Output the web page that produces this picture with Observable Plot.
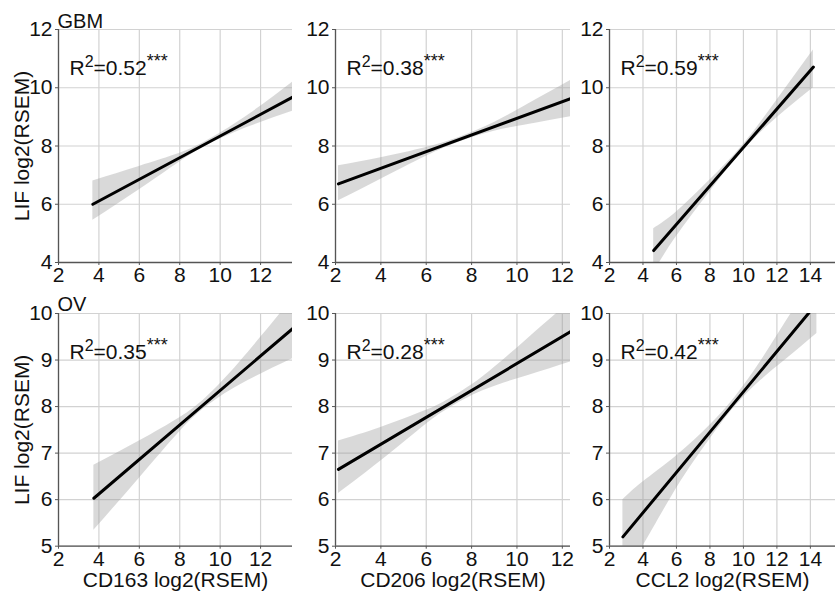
<!DOCTYPE html>
<html><head><meta charset="utf-8">
<script src="https://cdn.jsdelivr.net/npm/d3@7"></script>
<script src="https://cdn.jsdelivr.net/npm/@observablehq/plot@0.6"></script>
<style>
body{margin:0;background:#fff;}
#chart{position:relative;width:836px;height:599px;overflow:hidden;font-family:"Liberation Sans",Arial,sans-serif;}
#chart svg{position:absolute;overflow:visible;background:transparent;}
</style></head><body><div id="chart"></div>
<script>
// ---- data ----
const cancers = ["GBM", "OV"];
const genes = ["CD163", "CD206", "CCL2"];
const rSquared = [[0.52, 0.38, 0.59], [0.35, 0.28, 0.42]];
const yTicksGBM = [4, 6, 8, 10, 12];
const yTicksOV = [5, 6, 7, 8, 9, 10];
const xTicksCD163 = [2, 4, 6, 8, 10, 12];
const xTicksCD206 = [2, 4, 6, 8, 10, 12];
const xTicksCCL2 = [2, 4, 6, 8, 10, 12, 14];

// GBM CD163
const gbmCD163FitX = [3.7, 13.6], gbmCD163FitY = [6.0, 9.68];
const gbmCD163BandX = [3.7, 6, 8, 9.5, 11.5, 13.6];
const gbmCD163Lo = [5.45, 6.5, 7.45, 8.08, 8.68, 9.2];
const gbmCD163Hi = [6.8, 7.3, 7.75, 8.24, 9.12, 10.2];
// GBM CD206
const gbmCD206FitX = [2.13, 12.37], gbmCD206FitY = [6.70, 9.63];
const gbmCD206BandX = [2.13, 4, 6, 7.5, 9, 10.5, 12.37];
const gbmCD206Lo = [6.12, 6.86, 7.65, 8.15, 8.51, 8.74, 9.01];
const gbmCD206Hi = [7.32, 7.60, 7.95, 8.31, 8.81, 9.44, 10.25];
// GBM CCL2
const gbmCCL2FitX = [4.64, 14.18], gbmCCL2FitY = [4.41, 10.71];
const gbmCCL2BandX = [4.64, 6, 8, 10, 12, 14.18];
const gbmCCL2Lo = [3.66, 4.89, 6.43, 7.85, 8.97, 10.0];
const gbmCCL2Hi = [5.16, 5.73, 6.83, 8.05, 9.57, 11.3];
// OV CD163
const ovCD163FitX = [3.75, 13.6], ovCD163FitY = [6.03, 9.68];
const ovCD163BandX = [3.75, 6, 8, 9.3, 11, 13.6];
const ovCD163Lo = [5.34, 6.46, 7.46, 7.99, 8.47, 9.03];
const ovCD163Hi = [6.74, 7.26, 7.76, 8.19, 8.97, 10.33];
// OV CD206
const ovCD206FitX = [2.13, 12.37], ovCD206FitY = [6.65, 9.61];
const ovCD206BandX = [2.13, 4, 6, 7, 8.5, 10.5, 12.37];
const ovCD206Lo = [6.13, 6.83, 7.62, 7.96, 8.34, 8.67, 8.96];
const ovCD206Hi = [7.26, 7.55, 7.92, 8.16, 8.64, 9.47, 10.26];
// OV CCL2
const ovCCL2FitX = [2.8, 14.39], ovCCL2FitY = [5.2, 10.22];
const ovCCL2BandX = [2.8, 4, 6, 8, 9.5, 11, 12.5, 14.39];
const ovCCL2Lo = [4.4, 5.0, 6.24, 7.30, 8.0, 8.55, 9.0, 9.57];
const ovCCL2Hi = [6.0, 6.38, 6.94, 7.60, 8.2, 8.95, 9.8, 10.87];

const panels = [
  [
    {fitX: gbmCD163FitX, fitY: gbmCD163FitY, bx: gbmCD163BandX, lo: gbmCD163Lo, hi: gbmCD163Hi},
    {fitX: gbmCD206FitX, fitY: gbmCD206FitY, bx: gbmCD206BandX, lo: gbmCD206Lo, hi: gbmCD206Hi},
    {fitX: gbmCCL2FitX, fitY: gbmCCL2FitY, bx: gbmCCL2BandX, lo: gbmCCL2Lo, hi: gbmCCL2Hi}
  ],
  [
    {fitX: ovCD163FitX, fitY: ovCD163FitY, bx: ovCD163BandX, lo: ovCD163Lo, hi: ovCD163Hi},
    {fitX: ovCD206FitX, fitY: ovCD206FitY, bx: ovCD206BandX, lo: ovCD206Lo, hi: ovCD206Hi},
    {fitX: ovCCL2FitX, fitY: ovCCL2FitY, bx: ovCCL2BandX, lo: ovCCL2Lo, hi: ovCCL2Hi}
  ]
];
const xTicksByCol = [xTicksCD163, xTicksCD206, xTicksCCL2];
const xDomains = [[2, 13.58], [2, 12.36], [2, 15.5]];
const yTicksByRow = [yTicksGBM, yTicksOV];
const yDomains = [[4, 12], [5, 10]];

// ---- layout (pixels) ----
const colsPx = [[58, 292], [335, 570], [609, 835]];
const rowsPx = [[29, 262], [313.3, 546]];
const ML = 58, MT = 29, MR = 2, MB = 53;
const FONT = "Liberation Sans, Arial, sans-serif";
const FS = 21;

function superscriptR2(svg) {
  const ns = "http://www.w3.org/2000/svg";
  svg.querySelectorAll("text").forEach(t => {
    const m = t.textContent.match(/^R2=([0-9.]+)(\*+)$/);
    if (!m) return;
    while (t.firstChild) t.removeChild(t.firstChild);
    const add = (s, attrs) => {
      const e = document.createElementNS(ns, "tspan");
      e.textContent = s;
      for (const k in attrs) e.setAttribute(k, attrs[k]);
      t.appendChild(e);
    };
    add("R", {});
    add("2", {"font-size": 16, dy: -8});
    add("=" + m[1], {dy: 8});
    add(m[2], {"font-size": 18, dy: -8});
  });
}

const chart = document.getElementById("chart");
for (let r = 0; r < 2; r++) {
  for (let c = 0; c < 3; c++) {
    const p = panels[r][c];
    const band = p.bx.map((x, i) => ({x, lo: p.lo[i], hi: p.hi[i]}));
    const fit = p.fitX.map((x, i) => ({x, y: p.fitY[i]}));
    const [x0, x1] = colsPx[c], [y0, y1] = rowsPx[r];
    const marks = [
      Plot.gridX(xTicksByCol[c], {stroke: "#d2d2d2", strokeOpacity: 1, strokeWidth: 1.2}),
      Plot.gridY(yTicksByRow[r], {stroke: "#d2d2d2", strokeOpacity: 1, strokeWidth: 1.2}),
      Plot.areaY(band, {x: "x", y1: "lo", y2: "hi", fill: "#9a9a9a", fillOpacity: 0.38, curve: "natural", clip: true}),
      Plot.line(fit, {x: "x", y: "y", stroke: "#000", strokeWidth: 3, clip: true}),
      Plot.ruleX([xDomains[c][0]], {stroke: "#555", strokeWidth: 1.3}),
      Plot.ruleY([yDomains[r][0]], {stroke: "#555", strokeWidth: 1.3}),
      Plot.axisX(xTicksByCol[c], {tickSize: 3, tickPadding: 2, fontSize: FS, label: null, stroke: "#555"}),
      Plot.axisY(yTicksByRow[r], {tickSize: 3, tickPadding: 3, fontSize: FS, label: null, stroke: "#555"}),
      Plot.text(["R2=" + rSquared[r][c].toFixed(2) + "***"], {text: d => d, frameAnchor: "top-left", textAnchor: "start", dx: 11, dy: 31, fontSize: FS, fill: "#111"})
    ];
    if (c === 0) {
      marks.push(Plot.text([cancers[r]], {text: d => d, frameAnchor: "top-left", textAnchor: "start", lineAnchor: "bottom", dx: -1, dy: -2, fontSize: 20, fill: "#111"}));
      marks.push(Plot.text(["LIF log2(RSEM)"], {text: d => d, frameAnchor: "left", textAnchor: "middle", rotate: -90, dx: -36, fontSize: FS, fill: "#111"}));
    }
    if (r === 1) {
      marks.push(Plot.text([genes[c] + " log2(RSEM)"], {text: d => d, frameAnchor: "bottom", dy: 41, fontSize: FS, fill: "#111"}));
    }
    const svg = Plot.plot({
      width: ML + (x1 - x0) + MR,
      height: MT + (y1 - y0) + MB,
      marginLeft: ML, marginTop: MT, marginRight: MR, marginBottom: MB,
      style: {fontFamily: FONT, fontSize: FS + "px", color: "#111", background: "transparent", overflow: "visible"},
      x: {domain: xDomains[c]},
      y: {domain: yDomains[r]},
      marks
    });
    superscriptR2(svg);
    svg.style.left = (x0 - ML) + "px";
    svg.style.top = (y0 - MT) + "px";
    chart.appendChild(svg);
  }
}
</script>
</body></html>
